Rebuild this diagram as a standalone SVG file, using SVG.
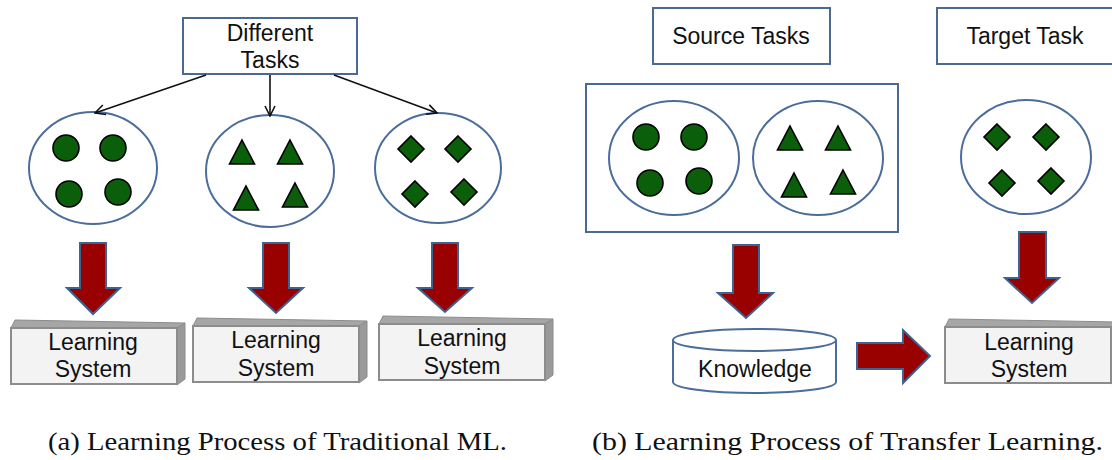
<svg xmlns="http://www.w3.org/2000/svg" xmlns:xlink="http://www.w3.org/1999/xlink" width="1112" height="460" viewBox="0 0 1112 460">
<style>
  .box { fill: #ffffff; stroke: #4a6a94; stroke-width: 2; }
  .ell { fill: #ffffff; stroke: #4a6d9b; stroke-width: 2; }
  .dot { fill: #0b5f0b; stroke: #000000; stroke-width: 1.6; }
  .blk { fill: #990000; stroke: #3f6390; stroke-width: 2; stroke-linejoin: miter; }
  .lbl { font-family: "Liberation Sans", Arial, sans-serif; font-size: 23px; fill: #111111; text-anchor: middle; }
  .cap { font-family: "Liberation Serif", "Times New Roman", serif; font-size: 25px; fill: #111111; }
  .conn { stroke: #111111; stroke-width: 1.6; fill: none; }
  .front { fill: #f3f3f3; stroke: #8c8c8c; stroke-width: 2; }
  .top { fill: #a6a6a6; stroke: #8c8c8c; stroke-width: 1; }
  .side { fill: #9a9a9a; stroke: #8c8c8c; stroke-width: 1; }
</style>
<defs>
  <marker id="arr" viewBox="0 0 12 12" refX="11" refY="6" markerWidth="12" markerHeight="12" markerUnits="userSpaceOnUse" orient="auto">
    <path d="M1,1 L11,6 L1,11" fill="none" stroke="#111111" stroke-width="1.6"/>
  </marker>
  <g id="lsbox">
    <polygon class="top" points="0,0 4,-8 174,-5 166,0"/>
    <polygon class="side" points="166,0 174,-5 174,51 166,57"/>
    <rect class="front" x="0" y="0" width="166" height="56"/>
  </g>
  <circle id="c" r="13" class="dot"/>
  <polygon id="t" class="dot" points="0,-12 12.5,12 -12.5,12"/>
  <polygon id="d" class="dot" points="0,-13 13,0 0,13 -13,0"/>
</defs>

<!-- ===== Panel (a) ===== -->
<g id="different-tasks">
  <rect class="box" x="183" y="18" width="174" height="56"/>
  <text class="lbl" x="270" y="41">Different</text>
  <text class="lbl" x="270" y="68">Tasks</text>
</g>

<g id="task-circles-a">
  <ellipse class="ell" cx="93" cy="168" rx="64" ry="56"/>
  <use xlink:href="#c" x="66" y="148"/>
  <use xlink:href="#c" x="113" y="148"/>
  <use xlink:href="#c" x="69" y="194"/>
  <use xlink:href="#c" x="118" y="192"/>
</g>
<g id="task-triangles-a">
  <ellipse class="ell" cx="270" cy="171" rx="64" ry="56"/>
  <use xlink:href="#t" x="242" y="152"/>
  <use xlink:href="#t" x="290" y="152"/>
  <use xlink:href="#t" x="246" y="198"/>
  <use xlink:href="#t" x="295" y="195"/>
</g>
<g id="task-diamonds-a">
  <ellipse class="ell" cx="438" cy="168" rx="63" ry="55"/>
  <use xlink:href="#d" x="411" y="149"/>
  <use xlink:href="#d" x="458" y="149"/>
  <use xlink:href="#d" x="415" y="194"/>
  <use xlink:href="#d" x="464" y="192"/>
</g>

<g id="ls-a1">
  <use xlink:href="#lsbox" x="11" y="328"/>
  <text class="lbl" x="93" y="350">Learning</text>
  <text class="lbl" x="93" y="377">System</text>
</g>
<g id="ls-a2">
  <use xlink:href="#lsbox" x="193" y="326"/>
  <text class="lbl" x="276" y="348">Learning</text>
  <text class="lbl" x="276" y="376">System</text>
</g>
<g id="ls-a3">
  <use xlink:href="#lsbox" x="379" y="324"/>
  <text class="lbl" x="462" y="346">Learning</text>
  <text class="lbl" x="462" y="374">System</text>
</g>

<!-- ===== Panel (b) ===== -->
<g id="source-tasks">
  <rect class="box" x="653" y="8" width="177" height="56"/>
  <text class="lbl" x="741" y="44">Source Tasks</text>
</g>
<g id="target-task">
  <rect class="box" x="937" y="8" width="177" height="56"/>
  <text class="lbl" x="1025" y="44">Target Task</text>
</g>

<g id="source-container">
  <rect class="box" x="586" y="84" width="312" height="148"/>
  <g id="task-circles-b">
    <ellipse class="ell" cx="674" cy="158" rx="65" ry="57"/>
    <use xlink:href="#c" x="646" y="137"/>
    <use xlink:href="#c" x="694" y="137"/>
    <use xlink:href="#c" x="650" y="183"/>
    <use xlink:href="#c" x="699" y="181"/>
  </g>
  <g id="task-triangles-b">
    <ellipse class="ell" cx="818" cy="158" rx="65" ry="57"/>
    <use xlink:href="#t" x="790" y="138"/>
    <use xlink:href="#t" x="838" y="138"/>
    <use xlink:href="#t" x="794" y="185"/>
    <use xlink:href="#t" x="843" y="182"/>
  </g>
</g>

<g id="task-diamonds-b">
  <ellipse class="ell" cx="1026" cy="157" rx="65" ry="57"/>
  <use xlink:href="#d" x="997" y="137"/>
  <use xlink:href="#d" x="1046" y="137"/>
  <use xlink:href="#d" x="1002" y="183"/>
  <use xlink:href="#d" x="1051" y="181"/>
</g>

<g id="knowledge">
  <path d="M673,340 V382 A81.5,11 0 0 0 836,382 V340" fill="#ffffff" stroke="#4a6d9b" stroke-width="2"/>
  <ellipse cx="754.5" cy="340" rx="81.5" ry="11" fill="#ffffff" stroke="#4a6d9b" stroke-width="2"/>
  <text class="lbl" x="755" y="377">Knowledge</text>
</g>

<g id="ls-b">
  <use xlink:href="#lsbox" x="945" y="327"/>
  <text class="lbl" x="1029" y="350">Learning</text>
  <text class="lbl" x="1029" y="377">System</text>
</g>

<!-- ===== Connectors ===== -->
<g id="connectors">
  <line class="conn" x1="206" y1="75" x2="95" y2="113" marker-end="url(#arr)"/>
  <line class="conn" x1="270" y1="75" x2="270" y2="116" marker-end="url(#arr)"/>
  <line class="conn" x1="334" y1="75" x2="437" y2="113" marker-end="url(#arr)"/>

  <path class="blk" d="M80,243 H106 V288 H120 L93,314 L67,288 H80 Z"/>
  <path class="blk" d="M263,243 H289 V288 H303 L276,313 L249,288 H263 Z"/>
  <path class="blk" d="M432,243 H458 V288 H472 L445,312 L418,288 H432 Z"/>
  <path class="blk" d="M733,245 H759 V293 H773 L746,318 L718,293 H733 Z"/>
  <path class="blk" d="M1019,232 H1046 V278 H1059 L1032,303 L1005,278 H1019 Z"/>
  <path class="blk" d="M857,343 H903 V330 L930,356 L903,383 V369 H857 Z"/>
</g>

<!-- ===== Captions ===== -->
<text class="cap" x="48" y="450" textLength="459" lengthAdjust="spacingAndGlyphs">(a) Learning Process of Traditional ML.</text>
<text class="cap" x="592" y="450" textLength="511" lengthAdjust="spacingAndGlyphs">(b) Learning Process of Transfer Learning.</text>
</svg>
